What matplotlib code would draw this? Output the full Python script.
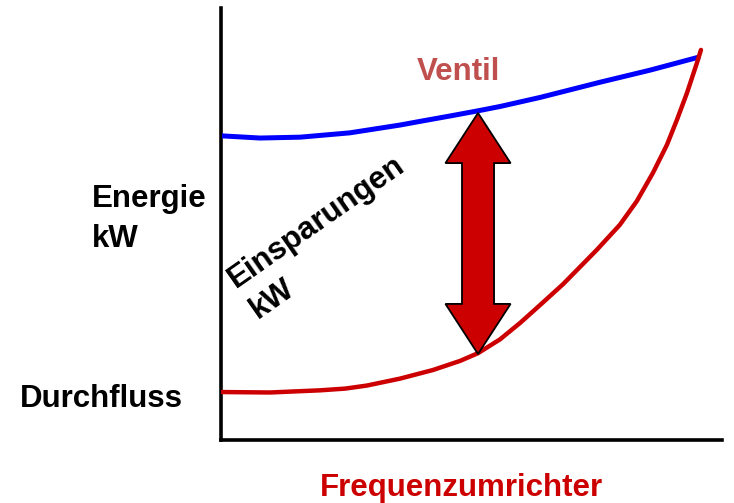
import matplotlib
matplotlib.use("Agg")
import matplotlib.pyplot as plt
from matplotlib.patches import Polygon

# ---- data (frequency %, energy %) ----
ventil_x = [0.2, 7.8, 15.8, 25.7, 35.7, 39.7, 45.7, 51.3, 55.7, 63.7, 75.6, 85.6, 95.6]
ventil_y = [70.4, 69.9, 70.1, 71.1, 72.9, 73.75, 75.0, 76.2, 77.2, 79.3, 82.8, 85.6, 88.7]

fu_x = [0.2, 9.8, 19.8, 24.8, 29.1, 35.7, 42.3, 47.7, 51.3, 55.7, 59.7, 63.7, 68.3,
        75.0, 79.6, 83.0, 86.2, 89.0, 91.0, 93.0, 95.0, 95.8]
fu_y = [11.1, 11.0, 11.5, 11.9, 12.6, 14.2, 16.2, 18.3, 20.1, 23.3, 27.1, 31.25, 36.1,
        44.0, 49.8, 55.3, 61.8, 68.3, 74.1, 80.3, 87.3, 90.3]

saving_x = 51.3
saving_low = 19.9
saving_high = 75.7

W, H = 734, 503
fig = plt.figure(figsize=(W / 100, H / 100), dpi=100)
plt.rcParams['font.family'] = ['Liberation Sans', 'DejaVu Sans']

def fx(px):
    return px / W

def fy(py):
    return 1 - py / H

left, right, top, bottom = 221, 722, 8, 440
ax = fig.add_axes([fx(left), fy(bottom), (right - left) / W, (bottom - top) / H])
ax.set_xlim(0, 100)
ax.set_ylim(0, 100)
for s in ['top', 'right']:
    ax.spines[s].set_visible(False)
for s in ['left', 'bottom']:
    ax.spines[s].set_linewidth(2.6)
    ax.spines[s].set_color('black')
ax.set_xticks([])
ax.set_yticks([])
ax.patch.set_alpha(0)

ax.plot(ventil_x, ventil_y, color='#0000ff', lw=3.6, solid_capstyle='butt',
        solid_joinstyle='round', zorder=3)
ax.plot(fu_x, fu_y, color='#cc0000', lw=3.2, solid_capstyle='round',
        solid_joinstyle='round', zorder=3)

# double arrow
head_w = 13.0
shaft_w = 6.4
head_l = 11.6
cx = saving_x
pts = [
    (cx, saving_high),
    (cx + head_w / 2, saving_high - head_l),
    (cx + shaft_w / 2, saving_high - head_l),
    (cx + shaft_w / 2, saving_low + head_l),
    (cx + head_w / 2, saving_low + head_l),
    (cx, saving_low),
    (cx - head_w / 2, saving_low + head_l),
    (cx - shaft_w / 2, saving_low + head_l),
    (cx - shaft_w / 2, saving_high - head_l),
    (cx - head_w / 2, saving_high - head_l),
]
ax.add_patch(Polygon(pts, closed=True, facecolor='#cc0000', edgecolor='black',
                     lw=1.3, zorder=4, joinstyle='miter'))

fs = 22.5
kw = dict(fontsize=fs, fontweight='bold', ha='left', va='baseline')
fig.text(fx(417), fy(80), 'Ventil', color='#c0504d', **kw)
fig.text(fx(92), fy(207), 'Energie', color='black', **kw)
fig.text(fx(92), fy(247), 'kW', color='black', **kw)
fig.text(fx(20), fy(407), 'Durchfluss', color='black', **kw)
fig.text(fx(320), fy(496), 'Frequenzumrichter', color='#cc0000', **kw)
fig.text(fx(236), fy(288), 'Einsparungen', color='black', rotation=35,
         rotation_mode='anchor', **kw)
fig.text(fx(258), fy(319), 'kW', color='black', rotation=35,
         rotation_mode='anchor', **kw)

fig.savefig('out.png', dpi=100, facecolor='white')
